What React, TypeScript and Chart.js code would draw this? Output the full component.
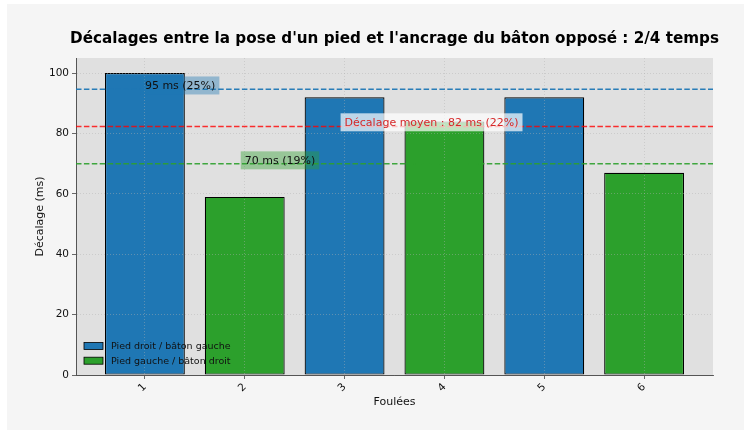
import { useEffect, useRef } from "react";
import { Chart, registerables } from "chart.js";

Chart.register(...registerables);

const TITLE = "Décalages entre la pose d'un pied et l'ancrage du bâton opposé : 2/4 temps";
const X_LABEL = "Foulées";
const Y_LABEL = "Décalage (ms)";
const strides = [1, 2, 3, 4, 5, 6];
const rightFootX = [1, 3, 5];
const rightFootValues = [100, 92, 92];
const leftFootX = [2, 4, 6];
const leftFootValues = [59, 84, 67];
const seriesLabels = ["Pied droit / bâton gauche", "Pied gauche / bâton droit"];
const seriesColors = ["#1f77b4", "#2ca02c"];
const yTicks = [0, 20, 40, 60, 80, 100];
const refValues = [94.67, 82.33, 70];
const refLabels = ["95 ms (25%)", "Décalage moyen : 82 ms (22%)", "70 ms (19%)"];
const refLabelX = [1, 3, 2];
const refLabelY = [95.9, 83.7, 71.1];
const refLineColors = ["rgba(31,119,180,0.95)", "rgba(255,0,0,0.8)", "rgba(44,160,44,0.9)"];
const refBoxColors = ["rgba(31,119,180,0.4)", "rgba(255,255,255,0.7)", "rgba(44,160,44,0.4)"];
const refTextColors = ["#111", "#d62728", "#111"];

const FONT = "'DejaVu Sans', sans-serif";

const customPlugin = {
  id: "custom",
  beforeDraw(chart: any) {
    const { ctx, chartArea: a, width, height } = chart;
    ctx.save();
    ctx.fillStyle = "#f5f5f5";
    ctx.fillRect(0, 0, width, height);
    ctx.fillStyle = "#e0e0e0";
    ctx.fillRect(a.left, a.top, a.right - a.left, a.bottom - a.top);
    ctx.fillStyle = "#000";
    ctx.font = `bold 15.2px ${FONT}`;
    ctx.textAlign = "center";
    ctx.textBaseline = "middle";
    ctx.fillText(TITLE, (a.left + a.right) / 2, 35);
    ctx.restore();
  },
  afterDraw(chart: any) {
    const { ctx, chartArea: a, scales } = chart;
    const xs = scales.x;
    const ys = scales.y;
    ctx.save();
    refValues.forEach((v, i) => {
      const py = ys.getPixelForValue(v);
      ctx.strokeStyle = refLineColors[i];
      ctx.lineWidth = 1.5;
      ctx.setLineDash([5.5, 2.4]);
      ctx.beginPath();
      ctx.moveTo(a.left, py);
      ctx.lineTo(a.right, py);
      ctx.stroke();
    });
    ctx.setLineDash([]);
    ctx.font = `11px ${FONT}`;
    ctx.textAlign = "left";
    ctx.textBaseline = "middle";
    refLabels.forEach((t, i) => {
      const px = xs.getPixelForValue(refLabelX[i]);
      const py = ys.getPixelForValue(refLabelY[i]);
      const w = ctx.measureText(t).width;
      ctx.fillStyle = refBoxColors[i];
      ctx.fillRect(px - 4, py - 9, w + 8, 18);
      ctx.fillStyle = refTextColors[i];
      ctx.fillText(t, px, py + 0.5);
    });
    ctx.font = `9.5px ${FONT}`;
    chart.data.datasets.forEach((ds: any, i: number) => {
      const cy = a.bottom - 29 + i * 14.7;
      ctx.fillStyle = ds.backgroundColor;
      ctx.fillRect(a.left + 8, cy - 3.5, 19, 7);
      ctx.strokeStyle = "#000";
      ctx.lineWidth = 0.8;
      ctx.strokeRect(a.left + 8, cy - 3.5, 19, 7);
      ctx.fillStyle = "#111";
      ctx.fillText(ds.label, a.left + 35, cy + 0.5);
    });
    ctx.restore();
  },
};

const gridOpts = {
  color: "rgba(176,176,176,0.55)",
  lineWidth: 0.8,
  offset: false,
  tickColor: "#444",
  tickBorderDash: [],
  tickLength: 4,
  tickWidth: 0.8,
  z: 1,
};

export default function App() {
  const ref = useRef<HTMLCanvasElement>(null);
  useEffect(() => {
    if (!ref.current) return;
    const barCommon = {
      borderColor: "#000",
      borderWidth: 1.2,
      borderSkipped: false,
      grouped: false,
      categoryPercentage: 1,
      barPercentage: 0.8,
    };
    const chart = new Chart(ref.current, {
      type: "bar",
      data: {
        datasets: [
          {
            label: seriesLabels[0],
            data: rightFootX.map((x, i) => ({ x, y: rightFootValues[i] })),
            backgroundColor: seriesColors[0],
            ...barCommon,
          },
          {
            label: seriesLabels[1],
            data: leftFootX.map((x, i) => ({ x, y: leftFootValues[i] })),
            backgroundColor: seriesColors[1],
            ...barCommon,
          },
        ] as any,
      },
      options: {
        animation: false,
        responsive: false,
        devicePixelRatio: 1,
        layout: { padding: { left: 0, right: 31, top: 54, bottom: 0 } },
        plugins: { legend: { display: false }, tooltip: { enabled: false }, title: { display: false } },
        scales: {
          x: {
            type: "linear",
            min: 0.31,
            max: 6.69,
            offset: false,
            afterBuildTicks: (s: any) => {
              s.ticks = strides.map((v) => ({ value: v }));
            },
            afterFit: (s: any) => {
              s.height = 55;
            },
            ticks: {
              callback: (v: any) => String(v),
              minRotation: 45,
              maxRotation: 45,
              autoSkip: false,
              padding: 2,
              color: "#111",
              font: { family: FONT, size: 10.5 },
            },
            grid: gridOpts,
            border: { color: "#555", width: 1, dash: [1, 2], z: 2 } as any,
            title: {
              display: true,
              text: X_LABEL,
              color: "#111",
              font: { family: FONT, size: 11 },
              padding: { top: 0, bottom: 21.4 },
            },
          } as any,
          y: {
            type: "linear",
            min: 0,
            max: 105,
            afterBuildTicks: (s: any) => {
              s.ticks = yTicks.map((v) => ({ value: v }));
            },
            afterFit: (s: any) => {
              s.width = 69;
            },
            ticks: {
              padding: 3,
              color: "#111",
              font: { family: FONT, size: 10.5 },
            },
            grid: gridOpts,
            border: { color: "#555", width: 1, dash: [1, 2], z: 2 } as any,
            title: {
              display: true,
              text: Y_LABEL,
              color: "#111",
              font: { family: FONT, size: 11 },
              padding: { top: 26.4, bottom: 0 },
            },
          } as any,
        },
      },
      plugins: [customPlugin],
    });
    return () => chart.destroy();
  }, []);
  return (
    <div style={{ position: "absolute", left: 7, top: 4, width: 737, height: 426 }}>
      <canvas ref={ref} width={737} height={426} />
    </div>
  );
}
